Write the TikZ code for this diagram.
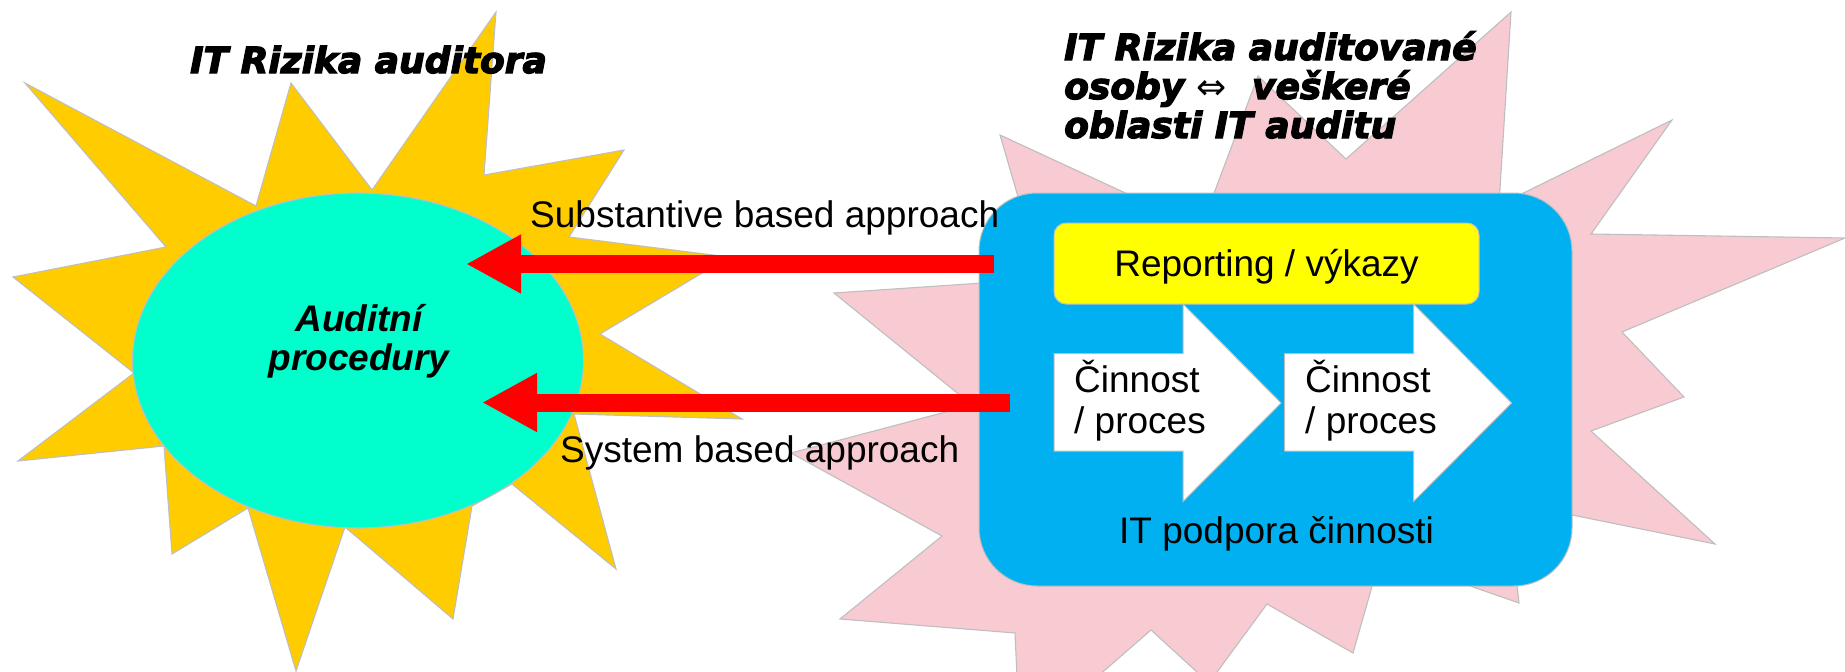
\documentclass[tikz,border=0pt]{standalone}
\usepackage{fontspec}
\setmainfont{Liberation Sans}
\newfontfamily\titlefont{DejaVu Sans}
\newfontfamily\symfont{DejaVu Sans}
\usetikzlibrary{arrows.meta,shapes.geometric}
\definecolor{sunyellow}{HTML}{FFCC00}
\definecolor{sunpink}{HTML}{F8CAD2}
\definecolor{ellgreen}{HTML}{00FFCC}
\definecolor{itblue}{HTML}{00B0F0}
\definecolor{repyellow}{HTML}{FFFF00}
\definecolor{linegray}{HTML}{BFBFBF}
\definecolor{arrred}{HTML}{FF0000}
\begin{document}
\begin{tikzpicture}[x=1pt,y=-1pt,
  outl/.style={draw=linegray, line width=1.1pt, line join=miter},
  txt/.style={font=\fontsize{37}{41}\selectfont, inner sep=0pt, text=black},
  ttl/.style={font=\titlefont\bfseries\itshape\addfontfeature{FakeBold=3.5}\fontsize{36}{39}\selectfont, inner sep=0pt, text=black},
  redarrow/.style={draw=arrred, line width=18pt, -{Triangle[length=55pt,width=55pt]}},
  blockarrow/.style={fill=white, draw=linegray, line width=1pt, line join=miter}]
\useasboundingbox (0,0) rectangle (1845,672);
% pink starburst
\begin{scope}
\clip (0,0) rectangle (1845,672);
\path[outl, fill=sunpink] (1000,135) -- (1201,228) -- (1258,76) -- (1346,159) -- (1511,12) -- (1499,205) -- (1672,120) -- (1591,234) -- (1845,238) -- (1622,332) -- (1684,397) -- (1591,431) -- (1715,544) -- (1508,502) -- (1519,603) -- (1381,555) -- (1353,653) -- (1267,604) -- (1209,683) -- (1151,630) -- (1020,744) -- (1015,633) -- (840,619) -- (942,536) -- (791,453) -- (972,405) -- (834,293) -- (1042,279) -- cycle;
% yellow starburst
\path[outl, fill=sunyellow] (25,83) -- (256,206) -- (291,83) -- (372,190) -- (496,12) -- (484,175) -- (624,150) -- (569,237) -- (729,257) -- (600,334) -- (742,419) -- (574,414) -- (616,569) -- (512,484) -- (472,506) -- (453,619) -- (345,527) -- (296,671) -- (248,508) -- (172,554) -- (164,446) -- (18,461) -- (134,373) -- (13,277) -- (166,247) -- cycle;
\end{scope}
% ellipse
\node[ellipse, outl, fill=ellgreen, minimum width=451pt, minimum height=335pt, inner sep=0pt] (ell) at (358,360.5) {};
\node[txt, font=\bfseries\itshape\fontsize{37}{39}\selectfont, align=center, anchor=base] (proc) at (359,370) {Auditní\\procedury};
% titles
\node[ttl, anchor=base west] (t1) at (190,73) {IT Rizika auditora};
\node[ttl, anchor=base west, align=left] (t2) at (1064,138) {IT Rizika auditované\\osoby {\symfont\mdseries\upshape ⇔}\ \ veškeré\\oblasti IT auditu};
% IT box
\node[fill=itblue, draw=linegray, line width=1pt, rounded corners=58pt, minimum width=593pt, minimum height=393pt, inner sep=0pt] (itbox) at (1275.5,389.5) {};
\node[fill=repyellow, draw=linegray, line width=1pt, rounded corners=12pt, minimum width=425pt, minimum height=81pt, inner sep=0pt, font=\fontsize{37}{41}\selectfont, text height=26.5pt, text depth=0pt] (rep) at (1266.5,263.5) {Reporting / výkazy};
% block arrows
\path[blockarrow] (1054,353.6) -- (1183,353.6) -- (1183,304) -- (1281,403) -- (1183,501.5) -- (1183,451) -- (1054,451) -- cycle;
\path[blockarrow] (1284.5,353.6) -- (1413.5,353.6) -- (1413.5,304) -- (1511.5,403) -- (1413.5,501.5) -- (1413.5,451) -- (1284.5,451) -- cycle;
\node[txt, anchor=base west, align=left] (c1) at (1074,433) {Činnost\\/ proces};
\node[txt, anchor=base west, align=left] (c2) at (1305,433) {Činnost\\/ proces};
\node[txt, anchor=base west] (itp) at (1119,543) {IT podpora činnosti};
% red arrows
\coordinate (s1) at (994,264);
\coordinate (e1) at (466,264);
\coordinate (s2) at (1010,402.5);
\coordinate (e2) at (482,402.5);
\draw[redarrow] (s1) -- (e1);
\draw[redarrow] (s2) -- (e2);
\node[txt, anchor=base west] (sub) at (530,227) {Substantive based approach};
\node[txt, anchor=base west] (sys) at (560,462) {System based approach};
\end{tikzpicture}
\end{document}
